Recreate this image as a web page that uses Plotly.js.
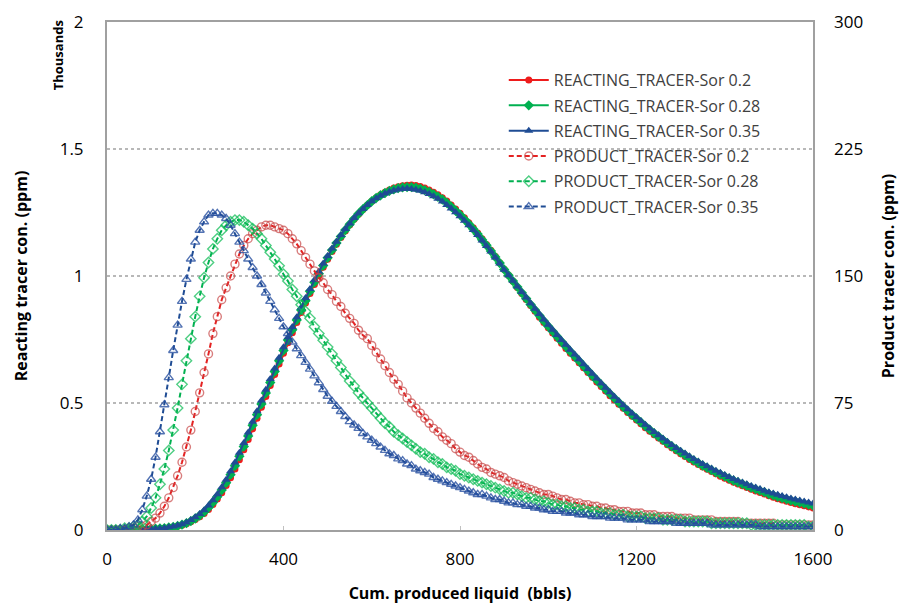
<!DOCTYPE html>
<html>
<head>
<meta charset="utf-8">
<script src="https://cdn.plot.ly/plotly-3.0.1.min.js"></script>
<style>html,body{margin:0;padding:0;background:#fff;}#chart{width:904px;height:608px;}</style>
</head>
<body>
<div id="chart"></div>
<script>
// Cumulative produced liquid (bbls)
const cumLiquid = [
0,10,20,30,40,50,60,70,80,90,
100,110,120,130,140,150,160,170,180,190,
200,210,220,230,240,250,260,270,280,290,
300,310,320,330,340,350,360,370,380,390,
400,410,420,430,440,450,460,470,480,490,
500,510,520,530,540,550,560,570,580,590,
600,610,620,630,640,650,660,670,680,690,
700,710,720,730,740,750,760,770,780,790,
800,810,820,830,840,850,860,870,880,890,
900,910,920,930,940,950,960,970,980,990,
1000,1010,1020,1030,1040,1050,1060,1070,1080,1090,
1100,1110,1120,1130,1140,1150,1160,1170,1180,1190,
1200,1210,1220,1230,1240,1250,1260,1270,1280,1290,
1300,1310,1320,1330,1340,1350,1360,1370,1380,1390,
1400,1410,1420,1430,1440,1450,1460,1470,1480,1490,
1500,1510,1520,1530,1540,1550,1560,1570,1580,1590,
1600];

// Reacting tracer concentration (ppm) — left axis
const reactingSor020 = [
0,0,0,1,1,1,2,2,3,3,
4,4,5,7,9,11,15,19,25,32,
41,52,65,81,100,122,147,175,206,240,
277,316,356,398,440,483,526,569,612,654,
696,737,777,817,856,894,931,967,1001,1034,
1066,1096,1125,1152,1177,1201,1223,1243,1262,1279,
1294,1308,1320,1330,1339,1346,1351,1355,1357,1358,
1356,1352,1346,1339,1330,1320,1308,1295,1280,1264,
1247,1229,1210,1190,1169,1147,1124,1101,1077,1052,
1027,1003,979,955,931,907,884,861,838,817,
796,776,755,735,715,696,677,658,639,620,
601,583,565,547,529,512,495,479,463,448,
433,418,403,389,375,362,349,336,324,312,
300,289,278,268,258,248,239,230,221,212,
204,196,188,181,174,167,160,154,148,142,
135,129,123,118,113,108,103,99,95,91,
87];
const reactingSor028 = [
0,0,1,1,1,1,2,2,3,3,
4,5,6,7,10,12,16,21,27,35,
45,57,71,88,108,131,157,186,218,253,
290,329,370,412,454,496,539,581,624,666,
707,748,788,827,866,903,940,975,1009,1041,
1072,1102,1130,1156,1181,1204,1225,1245,1263,1279,
1294,1307,1318,1327,1335,1341,1346,1349,1350,1350,
1348,1344,1338,1331,1322,1312,1301,1288,1273,1257,
1241,1223,1205,1185,1165,1143,1121,1098,1075,1051,
1026,1003,980,957,934,911,888,866,844,823,
802,782,762,742,722,703,684,665,646,627,
608,590,572,554,536,519,502,485,469,454,
439,424,409,395,381,368,355,342,330,318,
306,295,284,274,264,254,245,236,227,219,
211,203,195,188,181,174,167,161,155,149,
142,137,131,126,121,116,112,108,104,100,
96];
const reactingSor035 = [
0,0,1,1,1,2,2,3,3,4,
4,5,6,8,11,14,18,23,30,39,
50,63,78,96,117,141,168,198,231,266,
304,343,384,426,468,510,552,594,636,678,
719,759,799,838,876,913,949,984,1017,1049,
1079,1108,1135,1161,1185,1207,1228,1247,1264,1280,
1294,1306,1316,1325,1332,1337,1341,1343,1344,1343,
1340,1336,1330,1323,1314,1304,1293,1280,1266,1251,
1235,1218,1200,1181,1161,1140,1118,1096,1073,1049,
1025,1003,981,959,937,915,893,871,850,829,
808,788,768,748,729,710,691,672,653,634,
615,596,578,560,542,525,508,491,475,459,
444,429,414,400,386,373,360,347,335,323,
312,301,290,280,270,260,251,242,233,225,
217,209,201,194,187,180,173,167,161,155,
149,144,139,134,129,124,120,116,112,108,
104];

// Product tracer concentration (ppm) — right axis
const productSor020 = [
0,0,0,0,0,1,1,2,2,3,
5,7,10,14,19,25,32,40,49,59,
70,81,93,104,116,126,136,143,150,157,
163,168,172,175,177,179,180,180,179,178,
177,175,172,169,165,161,157,153,149,146,
142,139,135,132,128,125,122,118,115,113,
109,105,101,97,93,89,86,82,78,75,
72,69,66,63,60,58,55,53,51,48,
46,44,43,41,39,37,36,34,33,32,
31,29,28,27,26,25,24,23,22,21,
21,20,19,18,18,17,16,16,15,15,
14,14,13,13,12,12,11,11,11,10,
10,10,9,9,9,8,8,8,8,7,
7,7,7,6,6,6,6,6,5,5,
5,5,5,5,4,4,4,4,4,4,
4,4,3,3,3,3,3,3,3,3,
3];
const productSor028 = [
0,0,0,0,1,1,2,3,5,8,
13,19,27,36,47,59,72,86,100,113,
126,138,149,158,166,172,177,180,182,183,
183,182,180,178,175,172,168,164,160,156,
151,147,142,138,133,129,125,120,116,112,
108,104,100,96,92,88,85,81,78,75,
72,69,66,63,61,58,56,54,52,50,
48,46,45,43,42,40,39,37,36,35,
33,32,31,30,29,28,27,26,25,24,
23,22,22,21,20,19,19,18,17,17,
16,15,15,14,14,13,13,12,12,11,
11,11,10,10,10,9,9,9,8,8,
8,8,7,7,7,7,6,6,6,6,
6,5,5,5,5,5,5,4,4,4,
4,4,4,4,4,4,3,3,3,3,
3,3,3,3,3,3,3,3,3,2,
2];
const productSor035 = [
0,0,0,1,1,2,3,6,12,20,
30,43,58,74,90,106,121,135,148,160,
170,177,182,186,187,187,186,184,180,175,
170,165,160,155,150,145,140,135,130,125,
120,116,111,107,103,99,95,91,87,83,
79,76,73,70,67,64,62,60,57,55,
53,51,49,47,45,44,42,41,39,38,
36,35,34,33,31,30,29,28,27,26,
25,24,23,22,21,21,20,19,18,18,
17,16,16,15,15,14,14,13,13,12,
12,11,11,11,10,10,10,9,9,9,
8,8,8,8,7,7,7,7,6,6,
6,6,6,5,5,5,5,5,5,4,
4,4,4,4,4,4,4,3,3,3,
3,3,3,3,3,3,3,3,2,2,
2,2,2,2,2,2,2,2,2,2,
2];

const xTicks = [0, 400, 800, 1200, 1600];
const leftTickVals = [0, 500, 1000, 1500, 2000];
const leftTickText = ['0', '0.5', '1', '1.5', '2'];
const rightTickVals = [0, 75, 150, 225, 300];

const seriesNames = [
  'REACTING_TRACER-Sor 0.2', 'REACTING_TRACER-Sor 0.28', 'REACTING_TRACER-Sor 0.35',
  'PRODUCT_TRACER-Sor 0.2', 'PRODUCT_TRACER-Sor 0.28', 'PRODUCT_TRACER-Sor 0.35'
];

const RED = '#ee1c1c', GREEN = '#00b050', BLUE = '#1f4c94';
const FONT = 'Open Sans, Noto Sans, sans-serif';

function reacting(y, name, color, symbol, size) {
  return {x: cumLiquid, y: y, name: name, type: 'scatter', mode: 'lines+markers',
    yaxis: 'y', legendgroup: name,
    line: {color: color, width: 2},
    marker: {color: color, symbol: symbol, size: size, line: {width: 0}}};
}
function product(y, name, color, mcolor, symbol, size) {
  return {x: cumLiquid, y: y, name: name, type: 'scatter', mode: 'lines+markers',
    yaxis: 'y2', legendgroup: name,
    line: {color: color, width: 2, dash: '5px,3px'},
    marker: {color: mcolor, symbol: symbol, size: size, line: {width: 1.4, color: mcolor}}};
}

const data = [
  reacting(reactingSor020, seriesNames[0], RED, 'circle', 7),
  reacting(reactingSor028, seriesNames[1], GREEN, 'diamond', 8),
  reacting(reactingSor035, seriesNames[2], BLUE, 'triangle-up', 8),
  product(productSor020, seriesNames[3], '#e42222', 'rgba(200,70,70,0.7)', 'circle-open', 8),
  product(productSor028, seriesNames[4], '#00b050', 'rgba(20,190,90,0.75)', 'diamond-open', 8),
  product(productSor035, seriesNames[5], '#1f4c94', 'rgba(40,80,160,0.8)', 'triangle-up-open', 8)
];

const layout = {
  width: 904, height: 608,
  margin: {l: 107, r: 91, t: 22, b: 78},
  paper_bgcolor: '#ffffff', plot_bgcolor: '#ffffff',
  font: {family: FONT, color: '#000'},
  showlegend: true,
  legend: {x: 0.562, y: 0.919, xanchor: 'left', yanchor: 'top',
    bgcolor: 'rgba(0,0,0,0)', borderwidth: 0,
    font: {family: FONT, size: 16, color: '#404040'},
    tracegroupgap: 1.5, itemwidth: 40},
  xaxis: {range: [0, 1600], tickvals: xTicks, ticktext: xTicks.map(String),
    showline: true, linecolor: '#a0a0a0', linewidth: 2, mirror: true,
    ticks: 'inside', ticklen: 4, tickcolor: '#c0c0c0',
    showgrid: false, zeroline: false, ticklabelstandoff: 13,
    tickfont: {family: FONT, size: 17, color: '#000'},
    title: {text: '<b>Cum. produced liquid  (bbls)</b>', font: {family: FONT, size: 16, color: '#000'}, standoff: 18}},
  yaxis: {range: [0, 2000], tickvals: leftTickVals, ticktext: leftTickText,
    showline: true, linecolor: '#a0a0a0', linewidth: 2, mirror: true,
    ticks: '', showgrid: true, gridcolor: '#b8b8b8', griddash: 'dot', gridwidth: 1.2,
    zeroline: false, ticklabelstandoff: 18,
    tickfont: {family: FONT, size: 17, color: '#000'},
    title: {text: '<b>Reacting tracer con. (ppm)</b>', font: {family: FONT, size: 16, color: '#000'}, standoff: 28}},
  yaxis2: {range: [0, 300], tickvals: rightTickVals, ticktext: rightTickVals.map(String),
    overlaying: 'y', side: 'right', showgrid: false, zeroline: false, showline: false,
    ticks: '', ticklabelstandoff: 20,
    tickfont: {family: FONT, size: 17, color: '#000'},
    title: {text: '<b>Product tracer con. (ppm)</b>', font: {family: FONT, size: 16, color: '#000'}, standoff: 20}},
  annotations: [
    {text: '<b>Thousands</b>', xref: 'paper', yref: 'paper', x: -0.069, y: 0.935,
     xanchor: 'center', yanchor: 'middle', textangle: -90, showarrow: false,
     font: {family: FONT, size: 13, color: '#000'}}
  ]
};

Plotly.newPlot('chart', data, layout, {displayModeBar: false, staticPlot: true});
</script>
</body>
</html>
